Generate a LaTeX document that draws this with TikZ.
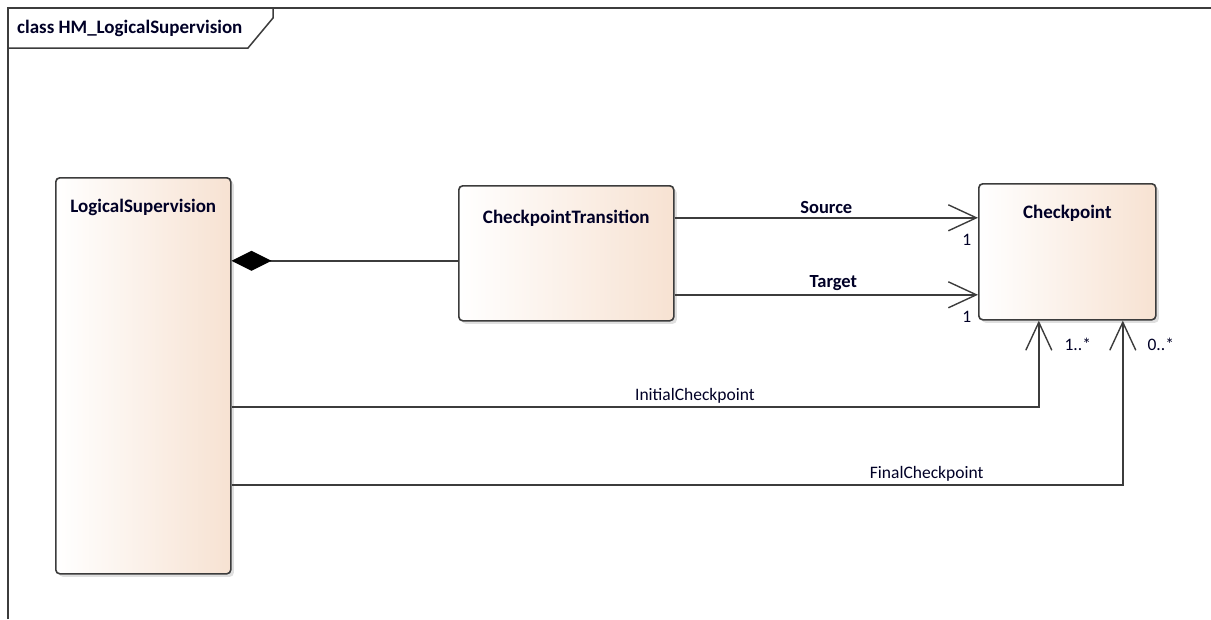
\documentclass[tikz,border=0pt]{standalone}
\usepackage{fontspec}
\setmainfont{Carlito}
\usetikzlibrary{positioning}
\usetikzlibrary{arrows.meta}
\usetikzlibrary{shadows}
\tikzset{>=latex}
\definecolor{mypeach}{RGB}{247,226,210}
\definecolor{myborder}{RGB}{60,60,60}
\colorlet{mytext}{black!85!blue}
\tikzstyle{myclass}=[draw=myborder,line width=1.6,rounded corners=4pt,
                     left color=white,right color=mypeach,anchor=north west,inner sep=0pt,
                     drop shadow={opacity=0.25,shadow xshift=3pt,shadow yshift=-3pt}]
\tikzstyle{myname}=[inner sep=0pt,text=mytext,font=\bfseries\fontsize{19}{22}\selectfont]
\tikzstyle{myrole}=[inner sep=2pt,text=mytext,font=\fontsize{17.5}{20}\selectfont]
\tikzstyle{myboldrole}=[myrole,font=\bfseries\fontsize{18.5}{21}\selectfont]
\tikzstyle{myline}=[myborder,line width=1.5]
\tikzstyle{myarrow}=[myline,-{Straight Barb[length=28,width=26,line width=1.4]}]
\tikzstyle{mycomp}=[myline,-{Diamond[length=40,width=20,color=black,fill=black]}]

\begin{document}
\begin{tikzpicture}[x=1pt,y=-1pt]
  \useasboundingbox (0,0) rectangle (1211,619);

  % FRAME
  \draw[myline] (8,619) -- (8,8) -- (1211,8);
  \draw[myline] (8,48) -- (248,48) -- (273,18) -- (273,8);
  \node[myname,anchor=west] (frame-name) at (17,28) {class HM\_LogicalSupervision};

  % CLASSES
  \node[myclass,minimum width=175,minimum height=396] (ls) at (55,177) {};
  \node[myname,below=22pt of ls.north] (ls-name) {LogicalSupervision};

  \node[myclass,minimum width=215,minimum height=135] (trans) at (458,185) {};
  \node[myname,below=25pt of trans.north] (trans-name) {CheckpointTransition};

  \node[myclass,minimum width=177,minimum height=136] (cp) at (978,183) {};
  \node[myname,below=22pt of cp.north] (cp-name) {Checkpoint};

  % ARROWS
  \draw[mycomp] ([yshift=-7.5pt]trans.west) coordinate (comp) -- (comp -| ls.east);

  \draw[myarrow] ([yshift=35.5pt]trans.east) coordinate (src) -- (src -| cp.west)
    node[myboldrole,midway,above=1pt] {Source}
    node[myrole,pos=1,anchor=north east,xshift=-4pt,yshift=-14pt] {1};
  \draw[myarrow] ([yshift=-41.5pt]trans.east) coordinate (tgt) -- (tgt -| cp.west)
    node[myboldrole,midway,above=1pt,xshift=7pt] {Target}
    node[myrole,pos=1,anchor=north east,xshift=-4pt,yshift=-14pt] {1};

  \draw[myarrow] ([yshift=-31pt]ls.east) -| ([xshift=-28.5pt]cp.south)
    node[myrole,pos=0.287,above=1pt] {InitialCheckpoint}
    node[myrole,pos=1,anchor=west,xshift=23pt,yshift=-24pt] {1..*};
  \draw[myarrow] ([yshift=-109pt]ls.east) -| ([xshift=55.5pt]cp.south)
    node[myrole,pos=0.39,above=1pt] {FinalCheckpoint}
    node[myrole,pos=1,anchor=west,xshift=22pt,yshift=-24pt] {0..*};

\end{tikzpicture}
\end{document}
